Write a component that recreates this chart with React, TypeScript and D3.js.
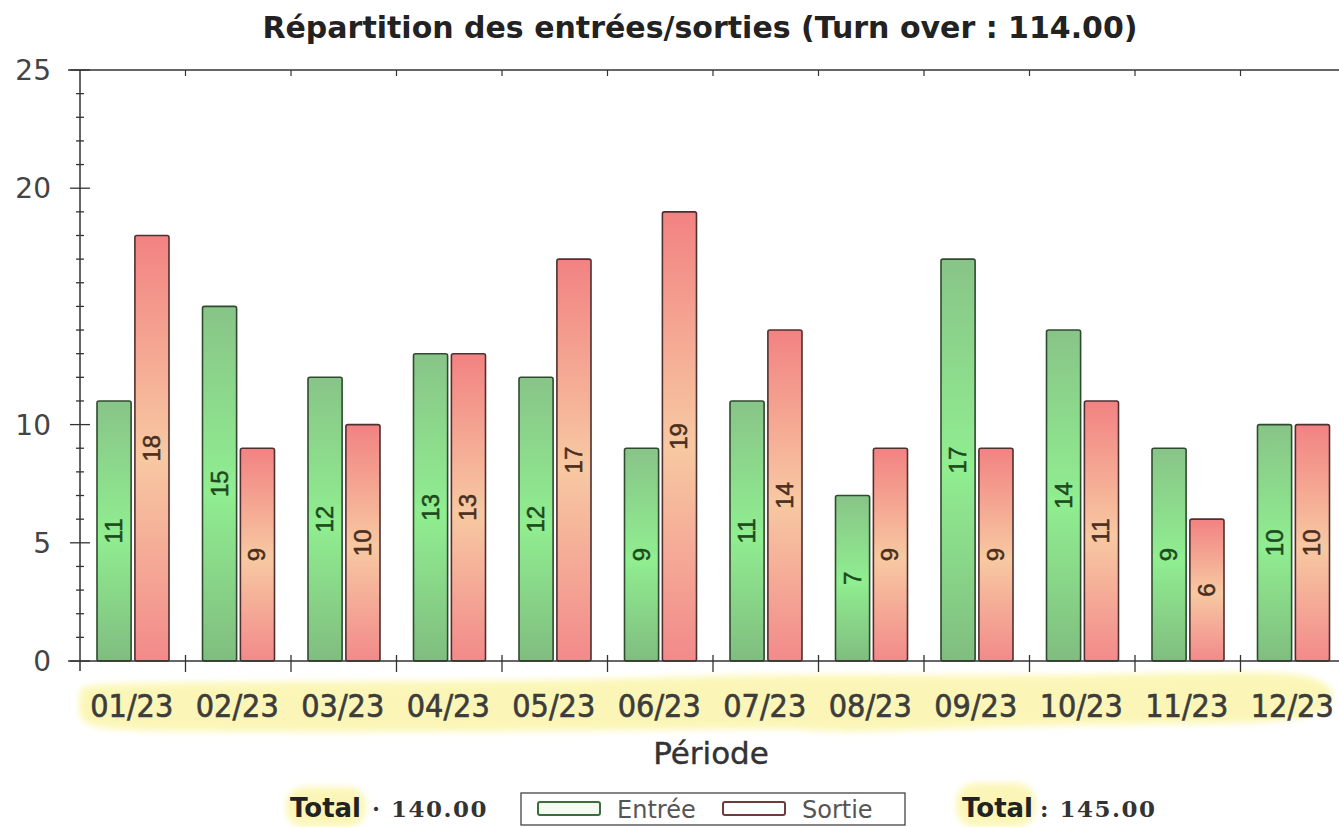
import React, { useEffect, useRef } from 'react';
import * as d3 from 'd3';

const periods = ['01/23', '02/23', '03/23', '04/23', '05/23', '06/23', '07/23', '08/23', '09/23', '10/23', '11/23', '12/23'];
const entrees = [11, 15, 12, 13, 12, 9, 11, 7, 17, 14, 9, 10];
const sorties = [18, 9, 10, 13, 17, 19, 14, 9, 9, 11, 6, 10];
const series = ['Entrée', 'Sortie'];
const yMajorTicks = [0, 5, 10, 20, 25];
const titleText = 'Répartition des entrées/sorties (Turn over : 114.00)';
const totalEntree = '140.00';
const totalSortie = '145.00';

const W = 1339;
const H = 827;

const App = () => {
  const svgRef = useRef<SVGSVGElement>(null);

  useEffect(() => {
    const svg = d3.select(svgRef.current).attr('width', W).attr('height', H);
    svg.selectAll('*').remove();

    const left = 80;
    const top = 70;
    const bottom = 661;
    const catW = 105.5;

    const x0 = d3.scaleBand().domain(periods).range([left, left + catW * periods.length]).padding(0);
    const x1 = d3.scaleBand().domain(series).range([17, 89]).paddingInner(0.1);
    const y = d3.scaleLinear().domain([0, 25]).range([bottom, top]);

    const defs = svg.append('defs');
    const gGreen = defs.append('linearGradient').attr('id', 'gGreen').attr('x1', 0).attr('y1', 0).attr('x2', 0).attr('y2', 1);
    gGreen.append('stop').attr('offset', '0%').attr('stop-color', '#88c488');
    gGreen.append('stop').attr('offset', '52%').attr('stop-color', '#90ee90');
    gGreen.append('stop').attr('offset', '100%').attr('stop-color', '#80bd80');
    const gRed = defs.append('linearGradient').attr('id', 'gRed').attr('x1', 0).attr('y1', 0).attr('x2', 0).attr('y2', 1);
    gRed.append('stop').attr('offset', '0%').attr('stop-color', '#f28282');
    gRed.append('stop').attr('offset', '52%').attr('stop-color', '#f7c9a2');
    gRed.append('stop').attr('offset', '100%').attr('stop-color', '#f28a8a');
    const blur = defs.append('filter').attr('id', 'blur').attr('x', '-10%').attr('y', '-30%').attr('width', '120%').attr('height', '160%');
    blur.append('feGaussianBlur').attr('stdDeviation', 3);

    // yellow marker highlights
    const hl = svg.append('g').attr('filter', 'url(#blur)').attr('fill', '#fbf6b0').attr('opacity', 0.9);
    const band = d3.line().curve(d3.curveBasisClosed);
    hl.append('path').attr('d', band([
      [80, 690], [82, 683], [300, 682], [600, 680], [700, 676], [830, 674], [1000, 676], [1200, 673], [1339, 670],
      [1339, 722], [1200, 724], [1000, 726], [830, 734], [800, 728], [700, 730], [400, 732], [150, 732], [84, 728], [78, 712],
    ]));
    hl.append('rect').attr('x', 286).attr('y', 787).attr('width', 80).attr('height', 40).attr('rx', 18);
    hl.append('rect').attr('x', 956).attr('y', 783).attr('width', 80).attr('height', 44).attr('rx', 20);

    // title
    svg.append('text')
      .attr('x', 700).attr('y', 38)
      .attr('text-anchor', 'middle')
      .attr('font-family', 'DejaVu Sans').attr('font-weight', 'bold').attr('font-size', 30)
      .attr('fill', '#222')
      .text(titleText);

    // bars
    const data = periods.map((p, i) => ({ p, vals: [entrees[i], sorties[i]] }));
    const groups = svg.append('g').selectAll('g').data(data).join('g')
      .attr('transform', (d) => `translate(${x0(d.p)},0)`);

    groups.selectAll('rect').data((d) => d.vals.map((v, j) => ({ v, s: series[j] }))).join('rect')
      .attr('x', (d) => x1(d.s)!)
      .attr('y', (d) => y(d.v))
      .attr('width', x1.bandwidth())
      .attr('height', (d) => y(0) - y(d.v))
      .attr('rx', 2)
      .attr('fill', (d) => (d.s === 'Entrée' ? 'url(#gGreen)' : 'url(#gRed)'))
      .attr('stroke', (d) => (d.s === 'Entrée' ? '#2f4a2f' : '#4e3030'))
      .attr('stroke-width', 1.6);

    groups.selectAll('text').data((d) => d.vals.map((v, j) => ({ v, s: series[j] }))).join('text')
      .attr('transform', (d) => `translate(${x1(d.s)! + x1.bandwidth() / 2 + 8},${(y(d.v) + y(0)) / 2}) rotate(-90)`)
      .attr('text-anchor', 'middle')
      .attr('font-family', 'Liberation Sans').attr('font-size', 24)
      .attr('fill', (d) => (d.s === 'Entrée' ? '#1d4a1d' : '#4a2e1e'))
      .attr('stroke', (d) => (d.s === 'Entrée' ? '#1d4a1d' : '#4a2e1e'))
      .attr('stroke-width', 0.5)
      .text((d) => d.v);

    // frame and axes
    const ax = svg.append('g').attr('stroke', '#333').attr('fill', 'none');
    ax.append('line').attr('x1', 68).attr('x2', W).attr('y1', top).attr('y2', top).attr('stroke-width', 1.5);
    ax.append('line').attr('x1', 68).attr('x2', W).attr('y1', bottom).attr('y2', bottom).attr('stroke-width', 1.5);
    ax.append('line').attr('x1', left).attr('x2', left).attr('y1', top).attr('y2', bottom + 10).attr('stroke-width', 1.5);

    const minor = d3.range(0, 26).filter((v) => !yMajorTicks.includes(v));
    ax.selectAll('.minor').data(minor).join('line')
      .attr('x1', left - 4).attr('x2', left + 4)
      .attr('y1', (d) => y(d)).attr('y2', (d) => y(d))
      .attr('stroke-width', 1.3);
    ax.selectAll('.major').data(yMajorTicks).join('line')
      .attr('x1', left - 10).attr('x2', left + 10)
      .attr('y1', (d) => y(d)).attr('y2', (d) => y(d))
      .attr('stroke-width', 1.3);

    const bounds = periods.slice(1).map((p) => x0(p)!);
    ax.selectAll('.btick').data(bounds).join('line')
      .attr('x1', (d) => d).attr('x2', (d) => d)
      .attr('y1', bottom - 6).attr('y2', bottom + 11)
      .attr('stroke-width', 1.3);
    ax.selectAll('.ttick').data(bounds).join('line')
      .attr('x1', (d) => d).attr('x2', (d) => d)
      .attr('y1', top).attr('y2', top + 6)
      .attr('stroke-width', 1.2);

    svg.append('g').selectAll('text').data(yMajorTicks).join('text')
      .attr('x', 51).attr('y', (d) => y(d) + 10)
      .attr('text-anchor', 'end')
      .attr('font-family', 'DejaVu Sans').attr('font-size', 28)
      .attr('fill', '#444')
      .text((d) => d);

    svg.append('g').selectAll('text').data(periods).join('text')
      .attr('x', (d) => x0(d)! + x0.bandwidth() / 2 - 1)
      .attr('y', 717)
      .attr('text-anchor', 'middle')
      .attr('font-family', 'DejaVu Sans Condensed').attr('font-size', 32)
      .attr('fill', '#3c3c3c').attr('stroke', '#3c3c3c').attr('stroke-width', 0.6)
      .text((d) => d);

    svg.append('text')
      .attr('x', 711).attr('y', 764)
      .attr('text-anchor', 'middle')
      .attr('font-family', 'DejaVu Sans').attr('font-size', 31)
      .attr('fill', '#333').attr('stroke', '#333').attr('stroke-width', 0.4)
      .text('Période');

    // totals
    const totals = svg.append('g').attr('fill', '#222');
    totals.append('text').attr('x', 290).attr('y', 817)
      .attr('font-family', 'DejaVu Sans').attr('font-weight', 'bold').attr('font-size', 26)
      .text('Total');
    totals.append('text').attr('x', 372).attr('y', 817)
      .attr('font-family', 'DejaVu Serif').attr('font-weight', 'bold').attr('font-size', 23)
      .attr('letter-spacing', 1.5).attr('fill', '#333')
      .text(`· ${totalEntree}`);
    totals.append('text').attr('x', 962).attr('y', 817)
      .attr('font-family', 'DejaVu Sans').attr('font-weight', 'bold').attr('font-size', 26)
      .text('Total');
    totals.append('text').attr('x', 1040).attr('y', 817)
      .attr('font-family', 'DejaVu Serif').attr('font-weight', 'bold').attr('font-size', 23)
      .attr('letter-spacing', 1.5).attr('fill', '#333')
      .text(`: ${totalSortie}`);

    // legend
    const lg = svg.append('g');
    lg.append('rect').attr('x', 521).attr('y', 793).attr('width', 384).attr('height', 32)
      .attr('fill', '#fff').attr('stroke', '#444').attr('stroke-width', 1.3);
    const items = [
      { s: series[0], x: 538, stroke: '#3b6e3b', fill: '#f3fbf3' },
      { s: series[1], x: 723, stroke: '#6e3b3b', fill: '#fff' },
    ];
    items.forEach((it) => {
      lg.append('rect').attr('x', it.x).attr('y', 802).attr('width', 62).attr('height', 13)
        .attr('rx', 2).attr('fill', it.fill).attr('stroke', it.stroke).attr('stroke-width', 2);
      lg.append('text').attr('x', it.x + 79).attr('y', 818)
        .attr('font-family', 'DejaVu Sans').attr('font-size', 24).attr('fill', '#555')
        .text(it.s);
    });
  }, []);

  return (
    <div style={{ position: 'absolute', left: 0, top: 0 }}>
      <svg ref={svgRef}></svg>
    </div>
  );
};

export default App;
